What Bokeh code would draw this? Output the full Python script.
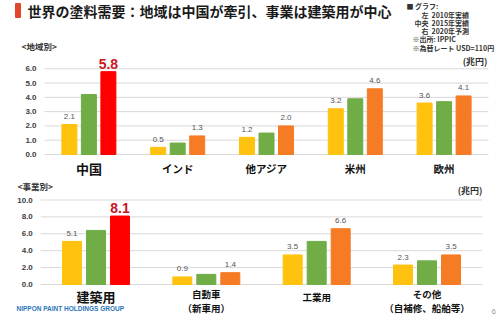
from bokeh.plotting import figure
from bokeh.models import Label, Range1d
from bokeh.core.properties import value
from bokeh.embed import file_html
from bokeh.resources import INLINE

# ---------------- data ----------------
regions = ["中国", "インド", "他アジア", "米州", "欧州"]
region_2010 = [2.1, 0.5, 1.2, 3.2, 3.6]
region_2015 = [4.2, 0.8, 1.5, 3.9, 3.7]
region_2020 = [5.8, 1.3, 2.0, 4.6, 4.1]
region_ticks = [0, 1, 2, 3, 4, 5, 6]

segments = ["建築用", "自動車", "工業用", "その他"]
segment_notes = ["", "（新車用）", "", "（自補修、船舶等）"]
segment_2010 = [5.1, 0.9, 3.5, 2.3]
segment_2015 = [6.4, 1.2, 5.1, 2.8]
segment_2020 = [8.1, 1.4, 6.6, 3.5]
segment_ticks = [0, 2, 4, 6, 8, 10]

title_text = "世界の塗料需要：地域は中国が牽引、事業は建築用が中心"
legend_lines = [("左", "2010年実績"), ("中央", "2015年実績"), ("右", "2020年予測")]

# ---------------- style ----------------
JP = "Noto Sans CJK JP"
NUM = "Liberation Sans"
YELLOW = "#FFC20E"
GREEN = "#70AD47"
ORANGE = "#F57C24"
RED = "#FF0000"
DARKRED = "#C8161D"
GRID = "#D9D9D9"
TEXT = "#222222"
W, H = 500, 322

# ---------------- layout of the two panels (page pixels) ----------------
# top panel: plot area x 44..488, value 0 at row 154, 14.29 px per unit
T_L, T_R, T_ZERO, T_UY = 44.0, 488.0, 154.0, 100 / 7.0
# bottom panel: plot area x 40..482, value 0 at row 284, 8.45 px per unit
B_L, B_R, B_ZERO, B_UY = 40.3, 481.7, 284.0, 8.45

t_n, b_n = len(regions), len(segments)
t_ux = (T_R - T_L) / t_n
b_ux = (B_R - B_L) / b_n


def t_x(px):
    return -0.5 + (px - T_L) / t_ux


def t_y(py):
    return (T_ZERO - py) / T_UY


def b_x(px):
    return -0.5 + (px - B_L) / b_ux


def b_y(py):
    return (B_ZERO - py) / B_UY


p = figure(width=W, height=H, output_backend="svg", toolbar_location=None,
           x_range=Range1d(t_x(0), t_x(W)), y_range=Range1d(t_y(H), t_y(0)),
           x_axis_location=None, y_axis_location=None,
           min_border_left=0, min_border_right=0, min_border_top=0, min_border_bottom=0)
p.extra_x_ranges = {"b": Range1d(b_x(0), b_x(W)), "px": Range1d(0, W)}
p.extra_y_ranges = {"b": Range1d(b_y(H), b_y(0)), "px": Range1d(H, 0)}
p.outline_line_color = None
p.xgrid.grid_line_color = None
p.ygrid.grid_line_color = None
p.background_fill_color = "white"


def add_label(x, y, text, size, color=TEXT, style="bold", font=JP, align="left",
              y_offset=0, rng="default"):
    kw = {}
    if rng != "default":
        kw = dict(x_range_name=rng, y_range_name=rng)
    p.add_layout(Label(x=x, y=y, text=text, text_font=font, text_font_size=size,
                       text_font_style=style, text_color=color, text_align=align,
                       text_baseline="middle", y_offset=y_offset, **kw))


def panel(names, v1, v2, v3, ticks, bar_w, off, rng, first_size, other_size, cat_offset):
    kw = {}
    if rng != "default":
        kw = dict(x_range_name=rng, y_range_name=rng)
    n = len(names)
    idx = list(range(n))
    # gridlines + tick labels (from the tick list)
    p.segment(x0=[-0.5] * len(ticks), x1=[n - 0.5] * len(ticks), y0=ticks, y1=ticks,
              line_color=GRID, line_width=1, **kw)
    p.text(x=[-0.5] * len(ticks), y=ticks, text=[f"{t:.1f}" for t in ticks],
           x_offset=-8, text_align="right", text_baseline="middle",
           text_font=value(NUM), text_font_size="8px", text_font_style="bold",
           text_color="#404040", **kw)
    # bars
    third_colors = [RED if i == 0 else ORANGE for i in idx]
    p.vbar(x=[i - off for i in idx], top=v1, width=bar_w, color=YELLOW, **kw)
    p.vbar(x=idx, top=v2, width=bar_w, color=GREEN, **kw)
    p.vbar(x=[i + off for i in idx], top=v3, width=bar_w, color=third_colors, **kw)
    # value labels
    for i in idx:
        add_label(i - off, v1[i], f"{v1[i]:.1f}", "8px", color="#555555", style="normal",
                  font=NUM, align="center", y_offset=8, rng=rng)
        if i == 0:
            add_label(i + off, v3[i], f"{v3[i]:.1f}", "14px", color=DARKRED,
                      font=NUM, align="center", y_offset=8, rng=rng)
        else:
            add_label(i + off, v3[i], f"{v3[i]:.1f}", "8px", color="#555555",
                      style="normal", font=NUM, align="center", y_offset=8, rng=rng)
    # category labels
    for i, name in enumerate(names):
        add_label(i, 0, name, first_size if i == 0 else other_size, color="#111111",
                  align="center", y_offset=cat_offset[i], rng=rng)


# ---------------- top panel: by region ----------------
panel(regions, region_2010, region_2015, region_2020, region_ticks,
      15 / t_ux, 19.5 / t_ux, "default", "13px", "10.5px", [-14] * t_n)

# ---------------- bottom panel: by business ----------------
b_offsets = [-12 if not note else -9 for note in segment_notes]
panel(segments, segment_2010, segment_2015, segment_2020, segment_ticks,
      19 / b_ux, 24 / b_ux, "b", "13px", "9.5px", b_offsets)
for i, note in enumerate(segment_notes):
    if note:
        add_label(i, 0, note, "9.5px", color="#111111", align="center", y_offset=-23, rng="b")

# ---------------- header texts (page pixel coordinates) ----------------
p.quad(left=[15], right=[20], top=[3], bottom=[17], color="#E2452C",
       x_range_name="px", y_range_name="px")
add_label(27, 10, title_text, "14px", color="#1A1A1A", rng="px")
add_label(406, 5, "■ グラフ:", "7px", color="#333333", rng="px")
for k, (a, b) in enumerate(legend_lines):
    add_label(428, 14 + 8 * k, a, "7px", color="#333333", align="right", rng="px")
    add_label(431, 14 + 8 * k, b, "7px", color="#333333", rng="px")
add_label(412, 38, "※出所: IPPIC", "7px", color="#333333", rng="px")
add_label(412, 47.5, "※為替レート USD=110円", "7px", color="#333333", rng="px")
add_label(21, 45, "<地域別>", "8.5px", color="#333333", rng="px")
add_label(487, 61, "(兆円)", "9px", color="#333333", align="right", rng="px")
add_label(17, 185, "<事業別>", "8.5px", color="#333333", rng="px")
add_label(482, 189.5, "(兆円)", "9px", color="#333333", align="right", rng="px")
add_label(16, 308, "NIPPON PAINT HOLDINGS GROUP", "6.5px", color="#2A74B8",
          font=NUM, rng="px")
add_label(491, 311, "6", "8px", color="#999999", style="normal", font=NUM, rng="px")

open("out.html", "w").write(file_html(p, INLINE))
